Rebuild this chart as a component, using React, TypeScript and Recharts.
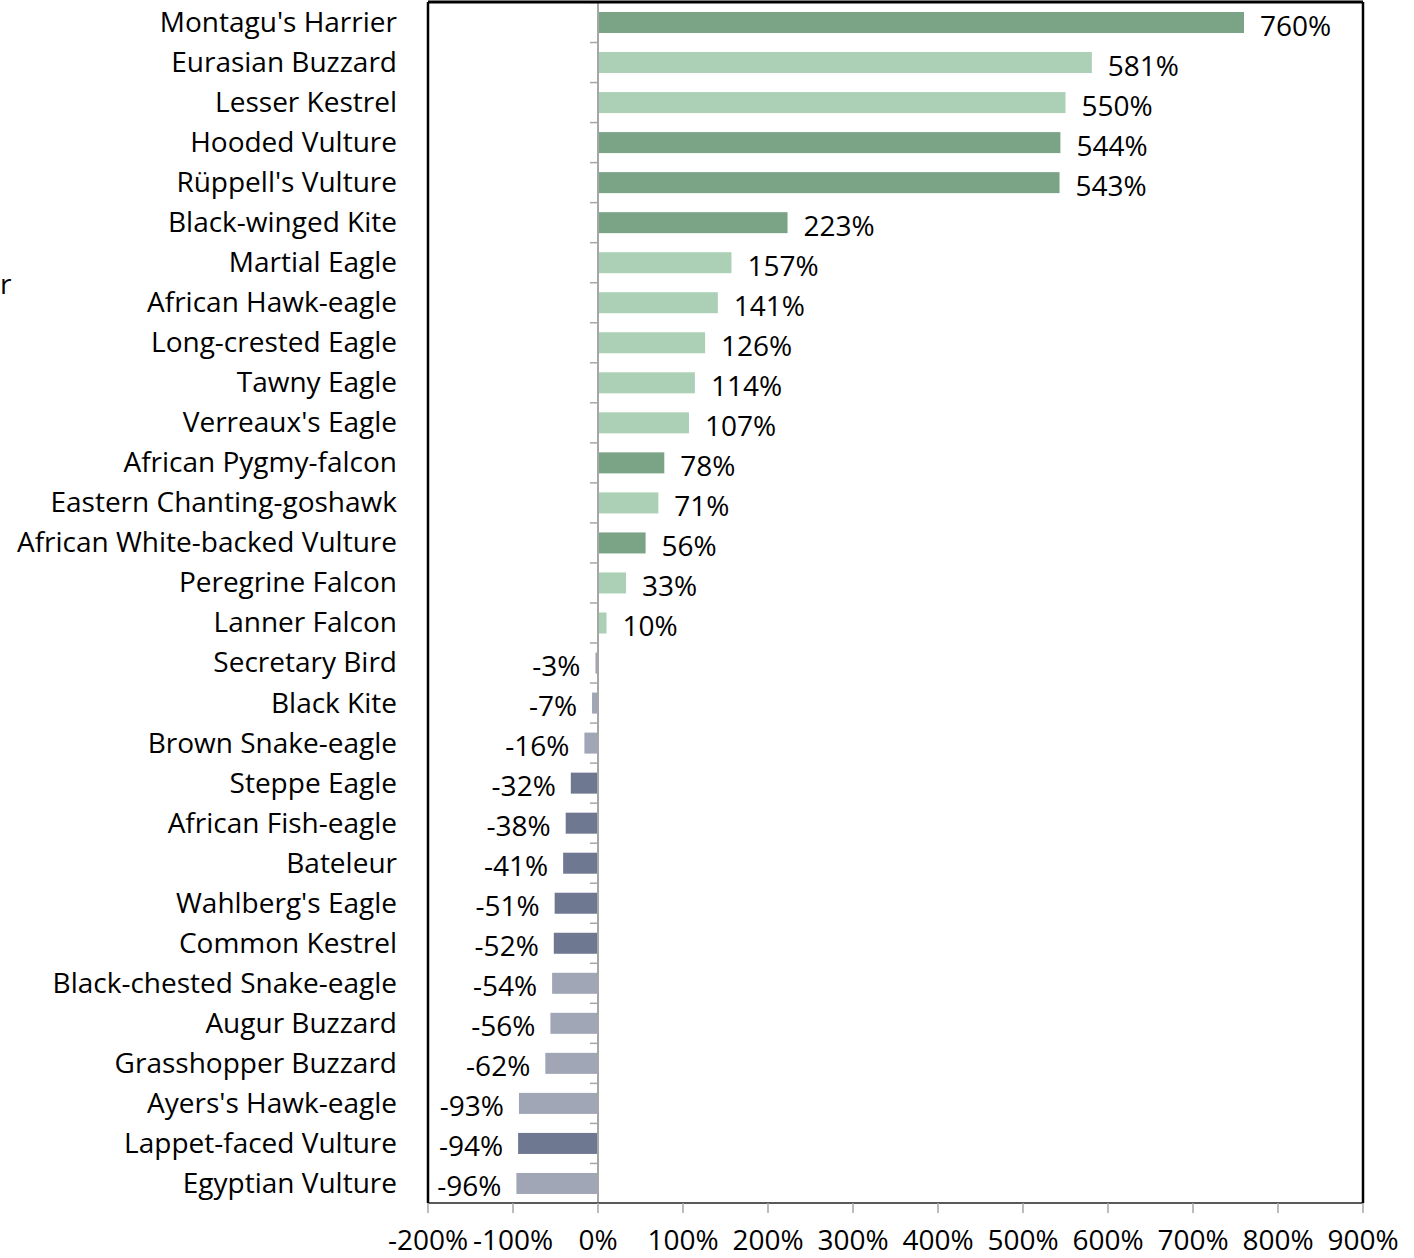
import React from "react";
import {
  Bar,
  BarChart,
  LabelList,
  ReferenceLine,
  XAxis,
  YAxis,
  Cell,
} from "recharts";

const species = [
  "Montagu's Harrier",
  "Eurasian Buzzard",
  "Lesser Kestrel",
  "Hooded Vulture",
  "Rüppell's Vulture",
  "Black-winged Kite",
  "Martial Eagle",
  "African Hawk-eagle",
  "Long-crested Eagle",
  "Tawny Eagle",
  "Verreaux's Eagle",
  "African Pygmy-falcon",
  "Eastern Chanting-goshawk",
  "African White-backed Vulture",
  "Peregrine Falcon",
  "Lanner Falcon",
  "Secretary Bird",
  "Black Kite",
  "Brown Snake-eagle",
  "Steppe Eagle",
  "African Fish-eagle",
  "Bateleur",
  "Wahlberg's Eagle",
  "Common Kestrel",
  "Black-chested Snake-eagle",
  "Augur Buzzard",
  "Grasshopper Buzzard",
  "Ayers's Hawk-eagle",
  "Lappet-faced Vulture",
  "Egyptian Vulture",
];

const change = [
  760, 581, 550, 544, 543, 223, 157, 141, 126, 114, 107, 78, 71, 56, 33, 10,
  -3, -7, -16, -32, -38, -41, -51, -52, -54, -56, -62, -93, -94, -96,
];

// true = darker shade
const emphasis = [
  true, false, false, true, true, true, false, false, false, false, false, true,
  false, true, false, false, false, false, false, true, true, true, true, true,
  false, false, false, false, true, false,
];

const xTicks = [-200, -100, 0, 100, 200, 300, 400, 500, 600, 700, 800, 900];

const data = species.map((name, i) => ({
  name,
  change: change[i],
  dark: emphasis[i],
}));

const W = 1414;
const H = 1258;
const M = { top: 1, right: 50, left: 0, bottom: 0 };
const X_AXIS_H = 55;
const BAND = (H - 2 - X_AXIS_H) / species.length;
const FONT = "'Open Sans', 'Noto Sans', sans-serif";
const FS = 28;

function colorFor(v: number, dark: boolean) {
  if (v >= 0) return dark ? "#7ba386" : "#abd0b6";
  return dark ? "#6e7891" : "#a0a6b6";
}

function BarShape(props: any) {
  const { x, y, width, height, fill, payload } = props;
  const left = Math.min(x, x + width);
  const w = Math.abs(width);
  const zero = payload.change >= 0 ? left : left + w;
  const bandTop = y + height / 2 - BAND / 2;
  return (
    <g>
      <rect x={left} y={y} width={w} height={height} fill={fill} />
      <line
        x1={zero - 8}
        x2={zero}
        y1={bandTop}
        y2={bandTop}
        stroke="#a6a6a6"
        strokeWidth={1.5}
      />
    </g>
  );
}

function ValueLabel(props: any) {
  const { x, y, width, height, value } = props;
  const end = value >= 0 ? Math.max(x, x + width) : Math.min(x, x + width);
  const pos = value >= 0;
  return (
    <text
      x={pos ? end + 16 : end - 15}
      y={y + height / 2 + 2}
      textAnchor={pos ? "start" : "end"}
      dominantBaseline="central"
      fontSize={FS}
      fontFamily={FONT}
      fill="#000"
    >
      {`${value}%`}
    </text>
  );
}

export default function App() {
  return (
    <div style={{ position: "absolute", left: 0, top: 0, width: W, height: H }}>
      <div
        style={{
          position: "absolute",
          left: 0,
          top: 264,
          fontSize: FS,
          fontFamily: FONT,
          color: "#000",
        }}
      >
        r
      </div>
      <BarChart
        width={W}
        height={H}
        data={data}
        layout="vertical"
        margin={M}
        barSize={21}
      >
        <XAxis
          type="number"
          dataKey="change"
          domain={[-200, 900]}
          ticks={xTicks}
          allowDataOverflow
          tickFormatter={(v) => `${v}%`}
          height={X_AXIS_H}
          tickSize={10}
          tickMargin={17}
          tickLine={{ stroke: "#a6a6a6", strokeWidth: 1.5 }}
          axisLine={{ stroke: "#595959", strokeWidth: 2 }}
          tick={{ fontSize: FS, fontFamily: FONT, fill: "#000" }}
          interval={0}
        />
        <XAxis
          xAxisId="top"
          orientation="top"
          type="number"
          domain={[-200, 900]}
          height={1}
          tick={false}
          tickLine={false}
          axisLine={{ stroke: "#000", strokeWidth: 3 }}
        />
        <YAxis
          type="category"
          dataKey="name"
          width={428}
          tickSize={0}
          tickMargin={31}
          tickLine={false}
          interval={0}
          axisLine={{ stroke: "#000", strokeWidth: 2.5 }}
          tick={{ fontSize: FS, fontFamily: FONT, fill: "#000" }}
        />
        <YAxis
          yAxisId="right"
          orientation="right"
          type="category"
          dataKey="name"
          width={1}
          tick={false}
          tickLine={false}
          axisLine={{ stroke: "#000", strokeWidth: 2.5 }}
        />
        <ReferenceLine x={0} stroke="#a6a6a6" strokeWidth={2} />
        <Bar
          dataKey="change"
          isAnimationActive={false}
          shape={<BarShape />}
        >
          {data.map((d, i) => (
            <Cell key={`c-${i}`} fill={colorFor(d.change, d.dark)} />
          ))}
          <LabelList dataKey="change" content={<ValueLabel />} />
        </Bar>
      </BarChart>
    </div>
  );
}
